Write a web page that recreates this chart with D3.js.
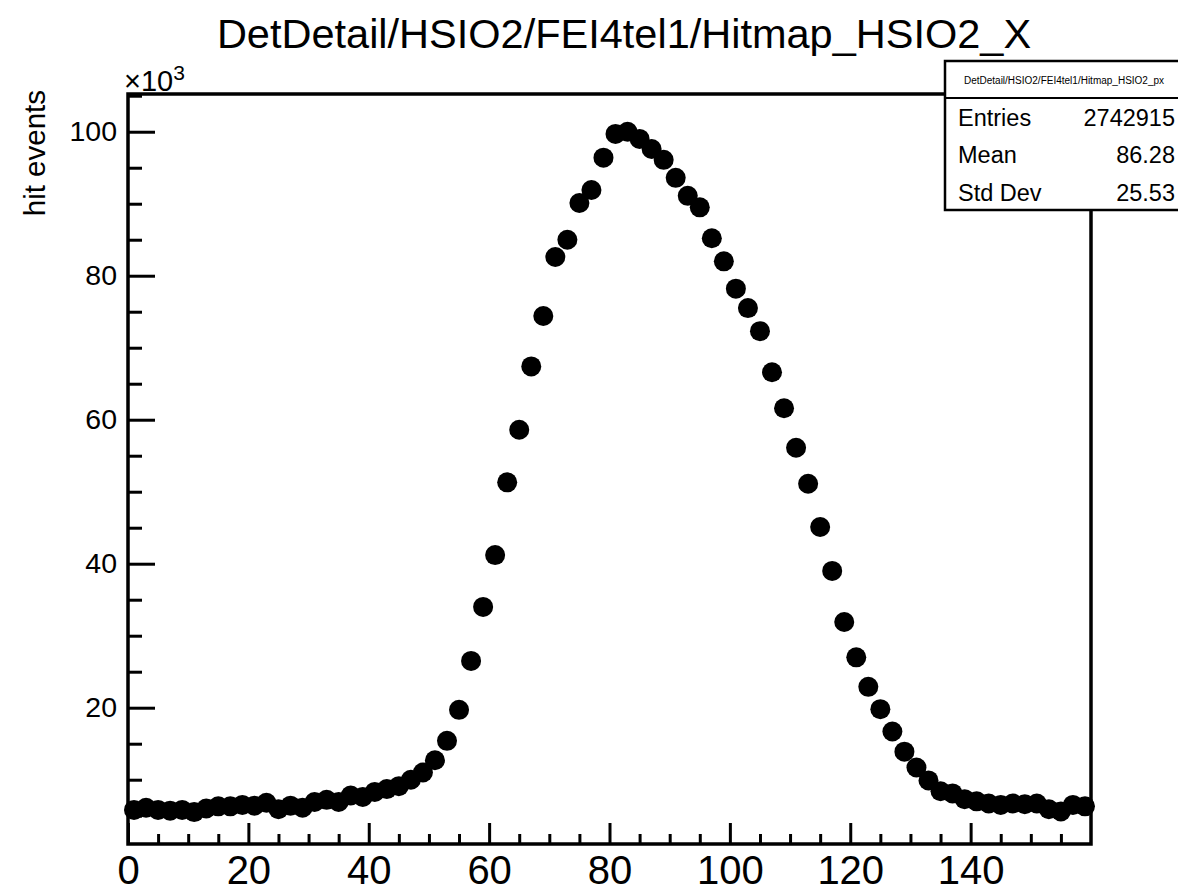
<!DOCTYPE html>
<html>
<head>
<meta charset="utf-8">
<script src="https://cdn.jsdelivr.net/npm/d3@7"></script>
<style>
  html, body { margin: 0; padding: 0; background: #fff; }
  svg { display: block; }
  text { font-family: "Liberation Sans", Arial, Helvetica, sans-serif; fill: #000; }
</style>
</head>
<body>
<svg id="chart" width="1178" height="889"></svg>
<script>
// ---- data (values in thousands of hit events) ----
const binCenters = [1,3,5,7,9,11,13,15,17,19,21,23,25,27,29,31,33,35,37,39,
  41,43,45,47,49,51,53,55,57,59,61,63,65,67,69,71,73,75,77,79,
  81,83,85,87,89,91,93,95,97,99,101,103,105,107,109,111,113,115,117,119,
  121,123,125,127,129,131,133,135,137,139,141,143,145,147,149,151,153,155,157,159];
const hitEvents = [5.8,6.1,5.8,5.7,5.8,5.5,6.0,6.3,6.3,6.5,6.4,6.8,5.9,6.4,6.1,6.9,7.2,6.9,7.8,7.6,
  8.3,8.7,9.1,10.0,11.0,12.7,15.4,19.7,26.5,34.0,41.2,51.3,58.6,67.4,74.4,82.6,85.0,90.1,91.9,96.4,
  99.7,100.0,99.0,97.6,96.1,93.6,91.1,89.5,85.2,82.0,78.2,75.5,72.3,66.6,61.6,56.1,51.1,45.1,39.0,31.9,
  27.0,22.9,19.8,16.7,13.9,11.7,9.9,8.4,8.1,7.3,7.0,6.7,6.5,6.7,6.6,6.7,5.9,5.6,6.5,6.3];
const xMajorTicks = [0,20,40,60,80,100,120,140];
const xMinorTicks = [5,10,15,25,30,35,45,50,55,65,70,75,85,90,95,105,110,115,125,130,135,145,150,155];
const yMajorTicks = [20,40,60,80,100];
const yMinorTicks = [5,10,15,25,30,35,45,50,55,65,70,75,85,90,95,105];
const titleText = "DetDetail/HSIO2/FEI4tel1/Hitmap_HSIO2_X";
const yAxisTitle = "hit events";
const statsName = "DetDetail/HSIO2/FEI4tel1/Hitmap_HSIO2_px";
const statsLabels = ["Entries", "Mean", "Std Dev"];
const statsValues = ["2742915", "86.28", "25.53"];

// ---- layout ----
const svg = d3.select("#chart");
const frame = {left: 128, right: 1091, top: 94, bottom: 844};
const x = d3.scaleLinear().domain([0, 160]).range([frame.left, frame.right]);
const y = d3.scaleLinear().domain([1.07, 105.24]).range([frame.bottom, frame.top]);

// title
svg.append("text")
  .attr("x", 624).attr("y", 48)
  .attr("text-anchor", "middle")
  .style("font-size", "41.5px")
  .text(titleText);

// x axis minor ticks
const gxMinor = svg.append("g").attr("transform", `translate(0,${frame.bottom})`)
  .call(d3.axisBottom(x).tickValues(xMinorTicks).tickSize(-10).tickFormat(""));
// x axis major ticks + labels
const gx = svg.append("g").attr("transform", `translate(0,${frame.bottom})`)
  .call(d3.axisBottom(x).tickValues(xMajorTicks).tickSize(-21).tickPadding(11.5).tickFormat(d3.format("d")));
// y axis minor ticks
const gyMinor = svg.append("g").attr("transform", `translate(${frame.left},0)`)
  .call(d3.axisLeft(y).tickValues(yMinorTicks).tickSize(-14).tickFormat(""));
// y axis major ticks + labels
const gy = svg.append("g").attr("transform", `translate(${frame.left},0)`)
  .call(d3.axisLeft(y).tickValues(yMajorTicks).tickSize(-27).tickPadding(11).tickFormat(d3.format("d")));

[gxMinor, gx, gyMinor, gy].forEach(g => {
  g.select(".domain").remove();
  g.selectAll(".tick line").attr("stroke", "#000").style("stroke-width", "3px");
  g.selectAll(".tick text").attr("fill", "#000").style("font-family", '"Liberation Sans", Arial, Helvetica, sans-serif');
});
gx.selectAll(".tick text").style("font-size", "40px");
gy.selectAll(".tick text").style("font-size", "28.5px");

// frame
svg.append("rect")
  .attr("x", frame.left).attr("y", frame.top)
  .attr("width", frame.right - frame.left).attr("height", frame.bottom - frame.top)
  .attr("fill", "none").attr("stroke", "#000").style("stroke-width", "3.5px");

// exponent label
const expText = svg.append("text")
  .attr("x", 124).attr("y", 90.5)
  .style("font-size", "29px");
expText.append("tspan").text("\u00d710");
expText.append("tspan").attr("dy", -11).style("font-size", "21px").text("3");

// y axis title
svg.append("text")
  .attr("transform", "translate(45,90) rotate(-90)")
  .attr("text-anchor", "end")
  .style("font-size", "29.5px")
  .text(yAxisTitle);

// data points
svg.append("g").selectAll("circle")
  .data(binCenters.map((c, i) => ({c, v: hitEvents[i]})))
  .join("circle")
  .attr("cx", d => x(d.c))
  .attr("cy", d => y(d.v))
  .attr("r", 10)
  .attr("fill", "#000");

// stats box
const box = {left: 945, top: 61, right: 1182, sep: 98, bottom: 210};
svg.append("rect")
  .attr("x", box.left).attr("y", box.top)
  .attr("width", box.right - box.left).attr("height", box.bottom - box.top)
  .attr("fill", "#fff").attr("stroke", "#000").style("stroke-width", "2.5px");
svg.append("line")
  .attr("x1", box.left).attr("x2", box.right)
  .attr("y1", box.sep).attr("y2", box.sep)
  .attr("stroke", "#000").style("stroke-width", "2px");
svg.append("text")
  .attr("x", 1064).attr("y", 84)
  .attr("text-anchor", "middle")
  .style("font-size", "10px")
  .text(statsName);
const rowBase = [125.5, 163, 200.5];
svg.append("g").selectAll("text.lab")
  .data(statsLabels).join("text")
  .attr("class", "lab")
  .attr("x", 958).attr("y", (d, i) => rowBase[i])
  .style("font-size", "23.5px")
  .text(d => d);
svg.append("g").selectAll("text.val")
  .data(statsValues).join("text")
  .attr("class", "val")
  .attr("x", 1175).attr("y", (d, i) => rowBase[i])
  .attr("text-anchor", "end")
  .style("font-size", "23.5px")
  .text(d => d);
</script>
</body>
</html>
